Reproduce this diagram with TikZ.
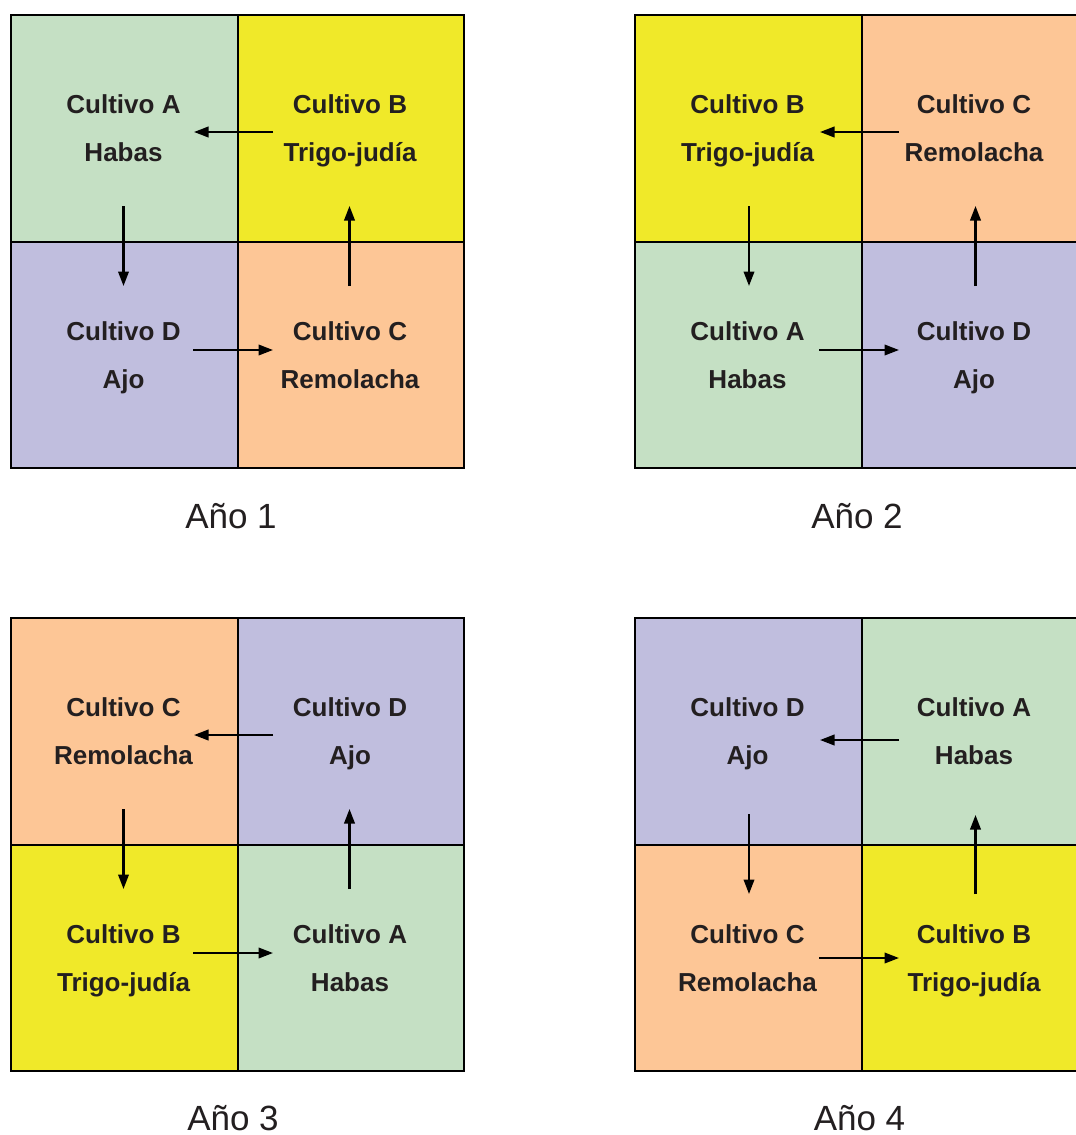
\documentclass[tikz,border=0pt]{standalone}
\usepackage{fontspec}
\setmainfont{Liberation Sans}
\usetikzlibrary{arrows.meta}
\definecolor{cgreen}{RGB}{197,224,196}
\definecolor{cyellow}{RGB}{240,233,41}
\definecolor{corange}{RGB}{253,198,150}
\definecolor{cpurple}{RGB}{192,190,222}
\definecolor{ctext}{RGB}{35,31,32}
\tikzset{
  cellA/.style={draw=black,line width=2pt,anchor=north west,inner sep=0pt,minimum width=226.5pt,minimum height=226.5pt},
  lbl/.style={anchor=base,inner sep=0pt,text=ctext,font=\fontsize{26}{30}\selectfont\bfseries},
  year/.style={anchor=base,inner sep=0pt,text depth=0pt,text=ctext,font=\fontsize{35}{40}\selectfont},
  flow/.style={line width=2.2pt,-{Triangle[length=14.5pt,width=10.5pt]}}
}
\begin{document}
\begin{tikzpicture}[x=1pt,y=-1pt]
\clip (0,0) rectangle (1076,1135);
\fill[white] (0,0) rectangle (1076,1135);
% ---------- Year 1 ----------
\node[cellA,fill=cgreen]  (g1tl) at (10,14) {};
\node[cellA,fill=cyellow] (g1tr) at (236.5,14) {};
\node[cellA,fill=cpurple] (g1bl) at (10,240.5) {};
\node[cellA,fill=corange] (g1br) at (236.5,240.5) {};
\node[lbl] (g1tl1) at (123.5,113.5) {Cultivo A};
\node[lbl] (g1tl2) at (123.5,161.5) {Habas};
\node[lbl] (g1tr1) at (350,113.5) {Cultivo B};
\node[lbl] (g1tr2) at (350,161.5) {Trigo-judía};
\node[lbl] (g1bl1) at (123.5,340) {Cultivo D};
\node[lbl] (g1bl2) at (123.5,388) {Ajo};
\node[lbl] (g1br1) at (350,340) {Cultivo C};
\node[lbl] (g1br2) at (350,388) {Remolacha};
\coordinate (g1a1s) at (273,132); \coordinate (g1a1e) at (194,132);
\coordinate (g1a2s) at (123.5,206); \coordinate (g1a2e) at (123.5,286);
\coordinate (g1a3s) at (193,350); \coordinate (g1a3e) at (273,350);
\coordinate (g1a4s) at (349.5,286); \coordinate (g1a4e) at (349.5,206);
\draw[flow] (g1a1s) -- (g1a1e);
\draw[flow] (g1a2s) -- (g1a2e);
\draw[flow] (g1a3s) -- (g1a3e);
\draw[flow] (g1a4s) -- (g1a4e);
\node[year] (y1) at (231,528) {Año 1};
% ---------- Year 2 ----------
\node[cellA,fill=cyellow] (g2tl) at (634,14) {};
\node[cellA,fill=corange] (g2tr) at (860.5,14) {};
\node[cellA,fill=cgreen]  (g2bl) at (634,240.5) {};
\node[cellA,fill=cpurple] (g2br) at (860.5,240.5) {};
\node[lbl] (g2tl1) at (747.5,113.5) {Cultivo B};
\node[lbl] (g2tl2) at (747.5,161.5) {Trigo-judía};
\node[lbl] (g2tr1) at (974,113.5) {Cultivo C};
\node[lbl] (g2tr2) at (974,161.5) {Remolacha};
\node[lbl] (g2bl1) at (747.5,340) {Cultivo A};
\node[lbl] (g2bl2) at (747.5,388) {Habas};
\node[lbl] (g2br1) at (974,340) {Cultivo D};
\node[lbl] (g2br2) at (974,388) {Ajo};
\coordinate (g2a1s) at (899,132); \coordinate (g2a1e) at (820,132);
\coordinate (g2a2s) at (749,206); \coordinate (g2a2e) at (749,286);
\coordinate (g2a3s) at (819,350); \coordinate (g2a3e) at (899,350);
\coordinate (g2a4s) at (975.5,286); \coordinate (g2a4e) at (975.5,206);
\draw[flow] (g2a1s) -- (g2a1e);
\draw[flow] (g2a2s) -- (g2a2e);
\draw[flow] (g2a3s) -- (g2a3e);
\draw[flow] (g2a4s) -- (g2a4e);
\node[year] (y2) at (857,528) {Año 2};
% ---------- Year 3 ----------
\node[cellA,fill=corange] (g3tl) at (10,617) {};
\node[cellA,fill=cpurple] (g3tr) at (236.5,617) {};
\node[cellA,fill=cyellow] (g3bl) at (10,843.5) {};
\node[cellA,fill=cgreen]  (g3br) at (236.5,843.5) {};
\node[lbl] (g3tl1) at (123.5,716.5) {Cultivo C};
\node[lbl] (g3tl2) at (123.5,764.5) {Remolacha};
\node[lbl] (g3tr1) at (350,716.5) {Cultivo D};
\node[lbl] (g3tr2) at (350,764.5) {Ajo};
\node[lbl] (g3bl1) at (123.5,943) {Cultivo B};
\node[lbl] (g3bl2) at (123.5,991) {Trigo-judía};
\node[lbl] (g3br1) at (350,943) {Cultivo A};
\node[lbl] (g3br2) at (350,991) {Habas};
\coordinate (g3a1s) at (273,735); \coordinate (g3a1e) at (194,735);
\coordinate (g3a2s) at (123.5,809); \coordinate (g3a2e) at (123.5,889);
\coordinate (g3a3s) at (193,953); \coordinate (g3a3e) at (273,953);
\coordinate (g3a4s) at (349.5,889); \coordinate (g3a4e) at (349.5,809);
\draw[flow] (g3a1s) -- (g3a1e);
\draw[flow] (g3a2s) -- (g3a2e);
\draw[flow] (g3a3s) -- (g3a3e);
\draw[flow] (g3a4s) -- (g3a4e);
\node[year] (y3) at (233,1130) {Año 3};
% ---------- Year 4 ----------
\node[cellA,fill=cpurple] (g4tl) at (634,617) {};
\node[cellA,fill=cgreen]  (g4tr) at (860.5,617) {};
\node[cellA,fill=corange] (g4bl) at (634,843.5) {};
\node[cellA,fill=cyellow] (g4br) at (860.5,843.5) {};
\node[lbl] (g4tl1) at (747.5,716.5) {Cultivo D};
\node[lbl] (g4tl2) at (747.5,764.5) {Ajo};
\node[lbl] (g4tr1) at (974,716.5) {Cultivo A};
\node[lbl] (g4tr2) at (974,764.5) {Habas};
\node[lbl] (g4bl1) at (747.5,943) {Cultivo C};
\node[lbl] (g4bl2) at (747.5,991) {Remolacha};
\node[lbl] (g4br1) at (974,943) {Cultivo B};
\node[lbl] (g4br2) at (974,991) {Trigo-judía};
\coordinate (g4a1s) at (899,740); \coordinate (g4a1e) at (820,740);
\coordinate (g4a2s) at (749,814); \coordinate (g4a2e) at (749,894);
\coordinate (g4a3s) at (819,958); \coordinate (g4a3e) at (899,958);
\coordinate (g4a4s) at (975.5,894); \coordinate (g4a4e) at (975.5,815);
\draw[flow] (g4a1s) -- (g4a1e);
\draw[flow] (g4a2s) -- (g4a2e);
\draw[flow] (g4a3s) -- (g4a3e);
\draw[flow] (g4a4s) -- (g4a4e);
\node[year] (y4) at (859.5,1130) {Año 4};
\end{tikzpicture}
\end{document}
